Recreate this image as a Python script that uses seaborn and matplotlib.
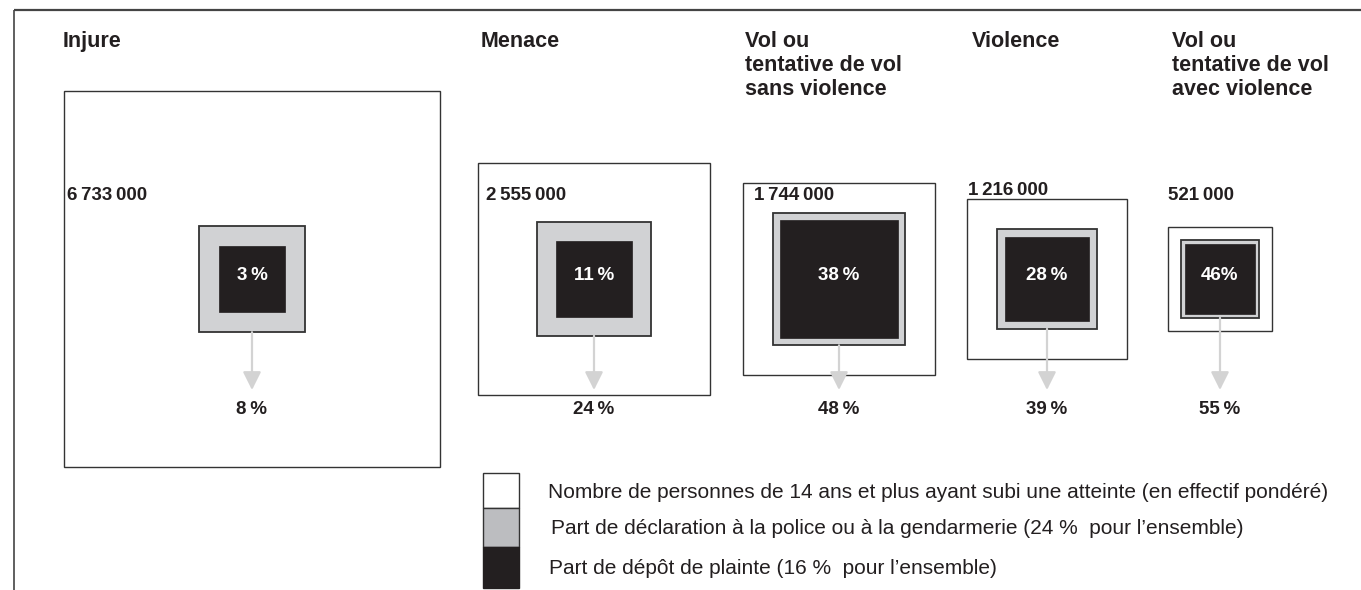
import numpy as np
import pandas as pd
import matplotlib
matplotlib.use("Agg")
import matplotlib.pyplot as plt
import seaborn as sns
from matplotlib.patches import Rectangle, FancyArrowPatch, ArrowStyle

# ---------------- data ----------------
categories = ["Injure", "Menace", "Vol ou\ntentative de vol\nsans violence",
              "Violence", "Vol ou\ntentative de vol\navec violence"]
victims = [6733000, 2555000, 1744000, 1216000, 521000]
declared_pct = [8, 24, 48, 39, 55]
complaint_pct = [3, 11, 38, 28, 46]
victim_labels = ["6\u2009733\u2009000", "2\u2009555\u2009000", "1\u2009744\u2009000",
                 "1\u2009216\u2009000", "521\u2009000"]
declared_labels = ["8\u2009%", "24\u2009%", "48\u2009%", "39\u2009%", "55\u2009%"]
complaint_labels = ["3\u2009%", "11\u2009%", "38\u2009%", "28\u2009%", "46%"]
legend_labels = [
    "Nombre de personnes de 14 ans et plus ayant subi une atteinte (en effectif pondéré)",
    "Part de déclaration à la police ou à la gendarmerie (24 %  pour l’ensemble)",
    "Part de dépôt de plainte (16 %  pour l’ensemble)",
]

df = pd.DataFrame({"cat": categories, "victims": victims,
                   "declared": declared_pct, "complaint": complaint_pct})

# ---------------- style / layout ----------------
sns.set_theme(style="white")
plt.rcParams["font.family"] = ["Liberation Sans", "DejaVu Sans"]
FONT = ["Liberation Sans", "DejaVu Sans"]

W, H = 1361, 590
fig = plt.figure(figsize=(W / 100, H / 100), dpi=100)
ax = fig.add_axes([0, 0, 1, 1])
ax.set_xlim(0, W)
ax.set_ylim(H, 0)
ax.axis("off")

C_BLACK = "#231f20"
C_GRAY = "#d1d2d4"
C_GRAY_LEG = "#bcbdc0"
C_EDGE = "#333333"
C_ARROW = "#d3d3d3"

k = 0.145                      # pixel side per sqrt(person)
centers_x = [252, 594, 839, 1047, 1220]
center_y = 279
title_x = [63, 481, 745, 972, 1172]
title_y = 31
count_dx = [3, 8, 11, 1, 0]
count_y = 195
arrow_tip = 390
bottom_label_y = 409
NUM_FS = 13.5

# frame lines
ax.plot([14, W], [10, 10], color="#444444", lw=1.6, solid_capstyle="butt")
ax.plot([14, 14], [10, H], color="#444444", lw=1.2, solid_capstyle="butt")


def square(cx, cy, side, fc, ec, lw):
    ax.add_patch(Rectangle((cx - side / 2, cy - side / 2), side, side,
                           facecolor=fc, edgecolor=ec, lw=lw, zorder=2))


for i, row in df.iterrows():
    cx = centers_x[i]
    s_out = k * np.sqrt(row["victims"])
    s_dec = k * np.sqrt(row["victims"] * row["declared"] / 100)
    s_cmp = k * np.sqrt(row["victims"] * row["complaint"] / 100)
    square(cx, center_y, s_out, "white", C_EDGE, 1.0)
    square(cx, center_y, s_dec, C_GRAY, C_EDGE, 1.3)
    square(cx, center_y, s_cmp, C_BLACK, C_BLACK, 0.5)

    ax.text(title_x[i], title_y, row["cat"], ha="left", va="top",
            fontsize=15.5, fontweight="bold", family=FONT, color="#231f20",
            linespacing=1.2)
    top_out = center_y - s_out / 2
    ly = count_y
    if top_out > count_y - 5:
        ly = min(count_y, top_out - 9)
    ax.text(cx - s_out / 2 + count_dx[i], ly, victim_labels[i],
            ha="left", va="center", fontsize=NUM_FS, fontweight="bold",
            family=FONT, color="#231f20")
    ax.text(cx, center_y - 3, complaint_labels[i], ha="center", va="center",
            fontsize=NUM_FS, fontweight="bold", family=FONT, color="white",
            zorder=5)
    y0 = center_y + s_dec / 2
    arr = FancyArrowPatch((cx, y0), (cx, arrow_tip),
                          arrowstyle=ArrowStyle("-|>", head_length=11, head_width=5.5),
                          mutation_scale=1, color=C_ARROW, lw=1.6,
                          shrinkA=0, shrinkB=0, zorder=3)
    ax.add_patch(arr)
    ax.text(cx, bottom_label_y, declared_labels[i], ha="center", va="center",
            fontsize=NUM_FS, fontweight="bold", family=FONT, color="#231f20")

# legend
leg_x0, leg_x1 = 483, 519
leg_bounds = [(473, 508), (508, 547), (547, 588)]
leg_fc = ["white", C_GRAY_LEG, C_BLACK]
leg_ec = [C_EDGE, C_EDGE, C_BLACK]
leg_tx = [548, 551, 549]
leg_ty = [493, 529, 569]
for j, lab in enumerate(legend_labels):
    y0, y1 = leg_bounds[j]
    ax.add_patch(Rectangle((leg_x0, y0), leg_x1 - leg_x0, y1 - y0,
                           facecolor=leg_fc[j], edgecolor=leg_ec[j], lw=1.0,
                           zorder=2))
    ax.text(leg_tx[j], leg_ty[j], lab, ha="left", va="center", fontsize=15,
            family=FONT, color="#231f20")

fig.savefig("out.png", dpi=100)
